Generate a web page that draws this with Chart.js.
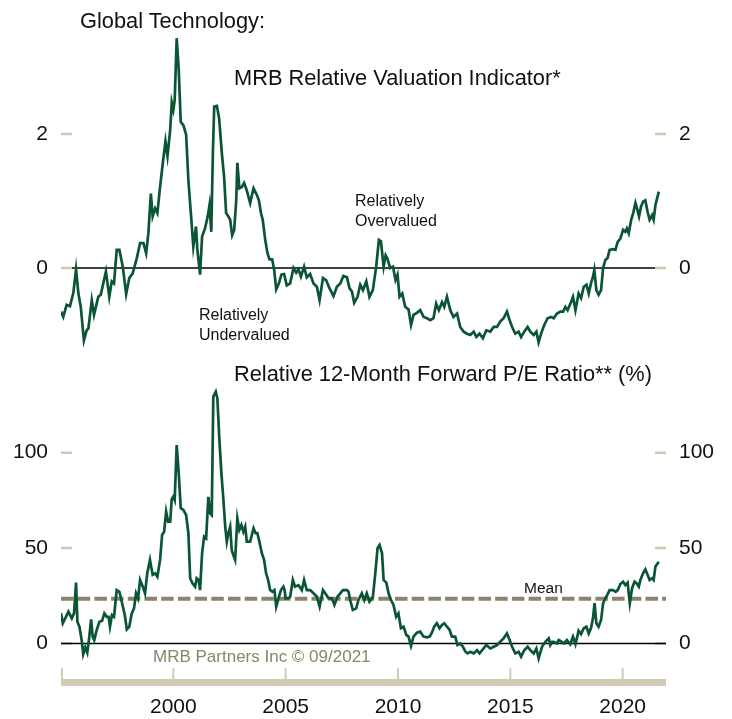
<!DOCTYPE html>
<html>
<head>
<meta charset="utf-8">
<script src="https://cdn.jsdelivr.net/npm/chart.js@4.4.0/dist/chart.umd.min.js"></script>
<style>
  html, body { margin: 0; padding: 0; background: #fff; }
  #wrap { position: relative; width: 732px; height: 719px; font-family: "Liberation Sans", Arial, sans-serif; color: #111; }
  #topChart { position: absolute; left: 0; top: 0; }
  #botChart { position: absolute; left: 0; top: 360px; }
  .lbl { position: absolute; white-space: nowrap; pointer-events: none; }
  .title { font-size: 21.8px; line-height: 21.8px; }
  .note { font-size: 16px; line-height: 20px; }
</style>
</head>
<body>
<div id="wrap">
  <canvas id="topChart" width="732" height="360"></canvas>
  <canvas id="botChart" width="732" height="359"></canvas>

  <div class="lbl title" style="left:80px; top:10px;">Global Technology:</div>
  <div class="lbl title" style="left:234px; top:67px;">MRB Relative Valuation Indicator*</div>
  <div class="lbl note" style="left:355px; top:191px;">Relatively<br>Overvalued</div>
  <div class="lbl note" style="left:199px; top:305px;">Relatively<br>Undervalued</div>
  <div class="lbl title" style="left:234px; top:363px;">Relative 12-Month Forward P/E Ratio** (%)</div>
  <div class="lbl" style="left:524px; top:580px; font-size:15.5px; line-height:15.5px;">Mean</div>
  <div class="lbl" style="left:153px; top:648px; font-size:17px; line-height:17px; color:#8b8468;">MRB Partners Inc © 09/2021</div>
</div>

<script>
// x range (decimal years)
const X_MIN = 1995;
const X_MAX = 2021.93;
const xTickYears = [2000, 2005, 2010, 2015, 2020];

// top panel: MRB relative valuation indicator
const rviTicks = [0, 2];
const rviYears = [
  1995.00, 1995.10, 1995.25, 1995.40, 1995.55, 1995.67, 1995.77, 1995.88, 1996.02, 1996.14,
  1996.22, 1996.37, 1996.47, 1996.66, 1996.77, 1996.88, 1997.00, 1997.15, 1997.26, 1997.36,
  1997.48, 1997.60, 1997.75, 1997.90, 1998.04, 1998.19, 1998.37, 1998.52, 1998.67, 1998.79,
  1998.89, 1999.00, 1999.08, 1999.19, 1999.29, 1999.41, 1999.53, 1999.65, 1999.74, 1999.86,
  1999.93, 2000.00, 2000.06, 2000.15, 2000.24, 2000.33, 2000.45, 2000.57, 2000.67, 2000.78,
  2000.89, 2001.01, 2001.07, 2001.19, 2001.28, 2001.41, 2001.53, 2001.61, 2001.69, 2001.76,
  2001.82, 2001.94, 2002.04, 2002.16, 2002.26, 2002.35, 2002.45, 2002.53, 2002.62, 2002.71,
  2002.80, 2002.85, 2002.94, 2003.05, 2003.15, 2003.27, 2003.42, 2003.57, 2003.72, 2003.81,
  2003.90, 2003.98, 2004.09, 2004.19, 2004.28, 2004.40, 2004.49, 2004.58, 2004.70, 2004.81,
  2004.93, 2005.05, 2005.20, 2005.35, 2005.47, 2005.57, 2005.68, 2005.82, 2005.94, 2006.09,
  2006.24, 2006.39, 2006.51, 2006.66, 2006.80, 2006.95, 2007.13, 2007.28, 2007.43, 2007.57,
  2007.73, 2007.84, 2007.95, 2008.05, 2008.20, 2008.32, 2008.44, 2008.59, 2008.73, 2008.88,
  2009.03, 2009.15, 2009.24, 2009.36, 2009.45, 2009.53, 2009.65, 2009.78, 2009.89, 2009.98,
  2010.07, 2010.19, 2010.32, 2010.47, 2010.58, 2010.69, 2010.84, 2010.99, 2011.14, 2011.29,
  2011.44, 2011.58, 2011.70, 2011.82, 2011.96, 2012.06, 2012.18, 2012.33, 2012.47, 2012.63,
  2012.77, 2012.92, 2013.07, 2013.22, 2013.37, 2013.49, 2013.63, 2013.78, 2013.93, 2014.11,
  2014.26, 2014.41, 2014.55, 2014.70, 2014.85, 2014.97, 2015.08, 2015.22, 2015.37, 2015.48,
  2015.62, 2015.77, 2015.89, 2016.04, 2016.16, 2016.26, 2016.37, 2016.51, 2016.66, 2016.81,
  2016.93, 2017.08, 2017.23, 2017.35, 2017.45, 2017.55, 2017.70, 2017.79, 2017.90, 2018.04,
  2018.15, 2018.27, 2018.39, 2018.49, 2018.59, 2018.68, 2018.74, 2018.83, 2018.93, 2019.04,
  2019.13, 2019.23, 2019.33, 2019.42, 2019.57, 2019.68, 2019.78, 2019.90, 2020.02, 2020.12,
  2020.19, 2020.27, 2020.38, 2020.47, 2020.57, 2020.64, 2020.73, 2020.82, 2020.91, 2021.01,
  2021.11, 2021.20, 2021.31, 2021.38, 2021.46, 2021.61
];
const rviValues = [
  -0.65, -0.73, -0.55, -0.57, -0.37, -0.02, -0.37, -0.58, -1.08, -0.93,
  -0.90, -0.48, -0.70, -0.43, -0.40, -0.23, -0.05, -0.43, -0.20, -0.23,
  0.27, 0.27, 0.02, -0.39, -0.15, -0.08, 0.14, 0.37, 0.37, 0.22,
  0.52, 1.11, 0.77, 0.89, 0.82, 1.21, 1.56, 1.89, 1.67, 2.06,
  2.47, 2.36, 2.50, 3.43, 2.96, 2.18, 2.13, 1.99, 1.31, 0.82,
  0.32, 0.62, 0.27, -0.10, 0.47, 0.59, 0.77, 0.94, 0.54, 1.71,
  2.41, 2.42, 2.23, 1.71, 1.36, 0.82, 0.77, 0.72, 0.49, 0.57,
  1.01, 1.57, 1.19, 1.21, 1.27, 1.16, 0.97, 1.19, 1.09, 1.01,
  0.82, 0.72, 0.42, 0.22, 0.13, 0.13, -0.03, -0.32, -0.23, -0.10,
  -0.09, -0.26, -0.23, 0.00, -0.07, -0.02, -0.13, 0.02, -0.14, -0.09,
  -0.23, -0.28, -0.48, -0.15, -0.18, -0.30, -0.42, -0.28, -0.23, -0.12,
  -0.14, -0.30, -0.35, -0.52, -0.43, -0.25, -0.33, -0.20, -0.43, -0.33,
  0.02, 0.42, 0.40, 0.02, 0.19, 0.14, 0.00, 0.02, -0.18, -0.10,
  -0.43, -0.38, -0.58, -0.62, -0.85, -0.70, -0.67, -0.63, -0.73, -0.75,
  -0.78, -0.75, -0.53, -0.63, -0.51, -0.58, -0.43, -0.63, -0.73, -0.68,
  -0.88, -0.95, -0.98, -1.00, -0.95, -1.03, -0.98, -1.05, -0.93, -0.95,
  -0.88, -0.88, -0.80, -0.75, -0.65, -0.78, -0.88, -0.98, -0.95, -1.03,
  -0.95, -0.88, -0.95, -1.00, -0.95, -1.11, -0.98, -0.85, -0.75, -0.73,
  -0.75, -0.68, -0.65, -0.65, -0.58, -0.63, -0.51, -0.43, -0.63, -0.38,
  -0.45, -0.28, -0.25, -0.38, -0.23, -0.13, -0.03, -0.33, -0.40, -0.33,
  0.00, 0.12, 0.15, 0.27, 0.28, 0.27, 0.39, 0.44, 0.57, 0.54,
  0.59, 0.52, 0.72, 0.82, 0.97, 0.89, 0.77, 0.92, 0.99, 1.01,
  0.84, 0.72, 0.79, 0.72, 0.94, 1.14
];

// bottom panel: relative 12-month forward P/E (%)
const peTicks = [0, 50, 100];
const peMean = 23.5;
const peYears = [
  1995.00, 1995.08, 1995.22, 1995.33, 1995.48, 1995.58, 1995.67, 1995.73, 1995.82, 1995.92,
  1995.99, 1996.08, 1996.17, 1996.26, 1996.34, 1996.41, 1996.48, 1996.59, 1996.71, 1996.83,
  1996.93, 1997.04, 1997.12, 1997.18, 1997.27, 1997.36, 1997.48, 1997.60, 1997.72, 1997.84,
  1997.93, 1998.04, 1998.15, 1998.25, 1998.34, 1998.43, 1998.52, 1998.64, 1998.74, 1998.84,
  1998.96, 1999.08, 1999.19, 1999.29, 1999.41, 1999.50, 1999.59, 1999.68, 1999.77, 1999.86,
  1999.93, 2000.00, 2000.06, 2000.15, 2000.24, 2000.33, 2000.45, 2000.57, 2000.67, 2000.75,
  2000.85, 2000.97, 2001.04, 2001.13, 2001.19, 2001.28, 2001.37, 2001.46, 2001.56, 2001.64,
  2001.71, 2001.78, 2001.89, 2001.96, 2002.05, 2002.14, 2002.23, 2002.31, 2002.38, 2002.45,
  2002.53, 2002.60, 2002.67, 2002.75, 2002.85, 2002.94, 2003.03, 2003.12, 2003.20, 2003.27,
  2003.42, 2003.57, 2003.66, 2003.74, 2003.83, 2003.94, 2004.04, 2004.13, 2004.22, 2004.31,
  2004.41, 2004.50, 2004.58, 2004.68, 2004.79, 2004.90, 2004.95, 2005.00, 2005.10, 2005.20,
  2005.32, 2005.42, 2005.57, 2005.72, 2005.82, 2005.94, 2006.09, 2006.24, 2006.39, 2006.51,
  2006.66, 2006.76, 2006.91, 2007.06, 2007.17, 2007.31, 2007.43, 2007.55, 2007.73, 2007.80,
  2007.87, 2007.99, 2008.14, 2008.24, 2008.39, 2008.50, 2008.61, 2008.73, 2008.88, 2008.99,
  2009.09, 2009.18, 2009.29, 2009.36, 2009.48, 2009.58, 2009.69, 2009.80, 2009.92, 2010.02,
  2010.13, 2010.25, 2010.37, 2010.47, 2010.58, 2010.69, 2010.84, 2010.99, 2011.14, 2011.29,
  2011.41, 2011.51, 2011.61, 2011.73, 2011.85, 2011.96, 2012.06, 2012.18, 2012.30, 2012.40,
  2012.55, 2012.65, 2012.77, 2012.89, 2013.00, 2013.10, 2013.22, 2013.37, 2013.52, 2013.63,
  2013.78, 2013.93, 2014.11, 2014.26, 2014.41, 2014.55, 2014.70, 2014.85, 2014.97, 2015.08,
  2015.22, 2015.37, 2015.48, 2015.62, 2015.77, 2015.89, 2016.04, 2016.16, 2016.26, 2016.41,
  2016.56, 2016.63, 2016.71, 2016.78, 2016.86, 2016.93, 2017.08, 2017.15, 2017.23, 2017.38,
  2017.52, 2017.67, 2017.79, 2017.90, 2018.04, 2018.15, 2018.27, 2018.39, 2018.49, 2018.59,
  2018.68, 2018.75, 2018.83, 2018.93, 2019.04, 2019.13, 2019.23, 2019.31, 2019.42, 2019.57,
  2019.69, 2019.78, 2019.90, 2020.02, 2020.12, 2020.22, 2020.32, 2020.42, 2020.53, 2020.62,
  2020.72, 2020.79, 2020.91, 2021.01, 2021.11, 2021.20, 2021.31, 2021.38, 2021.46, 2021.61
];
const peValues = [
  15.8, 10.6, 14.0, 16.7, 13.2, 15.8, 31.9, 11.4, 8.8, 1.8,
  -5.5, -2.0, -4.8, 3.6, 12.7, 3.6, 1.8, 7.1, 11.4, 11.9,
  15.8, 14.0, 14.0, 8.8, 14.9, 14.0, 28.0, 27.1, 21.1, 14.9,
  7.4, 8.8, 15.8, 18.4, 26.3, 23.7, 33.3, 29.8, 26.3, 36.8,
  43.8, 36.0, 36.8, 35.0, 43.8, 56.9, 58.6, 69.1, 63.8, 63.8,
  75.6, 77.0, 75.2, 104.0, 89.2, 70.9, 70.0, 67.3, 57.8, 34.2,
  31.6, 29.8, 34.2, 33.3, 28.0, 47.3, 56.0, 55.1, 76.9, 68.2,
  67.3, 129.4, 132.0, 128.5, 106.7, 89.2, 75.2, 61.2, 53.4, 57.8,
  61.2, 48.9, 46.3, 43.8, 65.6, 59.5, 62.1, 58.6, 61.2, 53.4,
  53.4, 60.4, 57.8, 57.8, 53.4, 47.3, 43.8, 36.8, 33.3, 28.0,
  27.1, 28.0, 19.3, 23.7, 28.0, 29.8, 28.0, 23.7, 23.7, 24.5,
  33.3, 29.8, 30.6, 28.0, 33.3, 28.0, 28.0, 26.3, 24.5, 19.3,
  28.0, 26.3, 23.7, 23.7, 20.2, 24.5, 26.3, 28.0, 28.0, 27.1,
  22.8, 17.6, 18.4, 22.8, 26.3, 22.8, 26.3, 21.9, 24.1, 36.8,
  49.9, 51.6, 47.3, 33.3, 31.9, 26.3, 22.8, 20.2, 14.0, 15.8,
  8.0, 8.8, 4.5, 3.6, -1.3, 3.6, 5.7, 6.2, 3.6, 3.2,
  3.6, 5.7, 8.8, 10.6, 8.0, 9.7, 10.6, 8.8, 7.1, 3.6,
  3.6, -0.8, 0.0, -1.7, -4.3, -5.2, -4.3, -5.2, -3.5, -5.2,
  -3.0, -0.8, -2.6, -1.7, -0.8, 0.9, 2.7, 5.3, 1.8, -1.7,
  -5.2, -4.3, -6.9, -3.5, -1.7, -3.5, -5.2, -2.6, -7.8, -1.7,
  0.9, 1.8, 2.7, -0.8, 0.9, 0.9, 0.0, 1.8, 1.4, 0.0,
  1.8, -0.4, 3.6, -0.4, 6.7, 4.9, 8.0, 8.8, 5.3, 8.0,
  13.2, 21.1, 10.6, 8.8, 12.3, 21.1, 23.7, 25.4, 28.0, 28.0,
  27.1, 28.0, 31.2, 32.4, 30.6, 31.9, 21.1, 29.0, 32.4, 31.6,
  29.8, 33.3, 36.8, 38.9, 36.0, 33.3, 34.2, 33.3, 40.3, 42.9
];

const GREEN = '#0a5534';
const TICK_BEIGE = '#cfc7b0';
const RAIL = '#d3cbb5';
const MEAN_COLOR = '#8c846a';
const LABEL_FONT = { family: '"Liberation Sans", Arial, sans-serif', size: 21 };

// short beige tick dashes inside both edges, and the black zero line
const panelDecor = {
  id: 'panelDecor',
  beforeDatasetsDraw(chart, args, opts) {
    const { ctx, chartArea: a, scales } = chart;
    const y = scales.y;
    ctx.save();
    ctx.strokeStyle = TICK_BEIGE;
    ctx.lineWidth = 2.5;
    y.ticks.forEach(t => {
      const py = y.getPixelForValue(t.value);
      ctx.beginPath();
      ctx.moveTo(a.left, py); ctx.lineTo(a.left + 11, py);
      ctx.moveTo(a.right - 11, py); ctx.lineTo(a.right, py);
      ctx.stroke();
    });
    const z = y.getPixelForValue(0);
    ctx.strokeStyle = '#000';
    ctx.lineWidth = 1.5;
    ctx.beginPath();
    ctx.moveTo(a.left + opts.inset, z);
    ctx.lineTo(a.right - opts.inset, z);
    ctx.stroke();
    ctx.restore();
  }
};

// thick beige rail under the bottom panel with upward year ticks
const xRail = {
  id: 'xRail',
  afterDraw(chart) {
    const { ctx, chartArea: a, scales: { x } } = chart;
    ctx.save();
    ctx.fillStyle = RAIL;
    ctx.fillRect(a.left, a.bottom - 7, a.right - a.left, 7);
    ctx.strokeStyle = RAIL;
    ctx.lineWidth = 2;
    [X_MIN, ...xTickYears].forEach(v => {
      const px = x.getPixelForValue(v) + (v === X_MIN ? 1 : 0);
      ctx.beginPath();
      ctx.moveTo(px, a.bottom - 18);
      ctx.lineTo(px, a.bottom - 7);
      ctx.stroke();
    });
    ctx.restore();
  }
};

function yAxis(position, min, max, ticks, width, padding) {
  return {
    position,
    min,
    max,
    afterBuildTicks: s => { s.ticks = ticks.map(v => ({ value: v })); },
    afterFit: s => { s.width = width; s.paddingTop = 0; s.paddingBottom = 0; },
    grid: { display: false, drawTicks: false },
    border: { display: false },
    ticks: { padding, color: '#111', font: LABEL_FONT, callback: v => String(v) }
  };
}

const basePlugins = { legend: { display: false }, tooltip: { enabled: false } };

new Chart(document.getElementById('topChart'), {
  type: 'line',
  data: {
    datasets: [{
      data: rviYears.map((x, i) => ({ x, y: rviValues[i] })),
      borderColor: GREEN,
      borderWidth: 2.7,
      pointRadius: 0,
      tension: 0
    }]
  },
  options: {
    responsive: false,
    animation: false,
    layout: { padding: { top: 20, bottom: 0, left: 0, right: 0 } },
    plugins: { ...basePlugins, panelDecor: { inset: 11 } },
    scales: {
      x: { type: 'linear', min: X_MIN, max: X_MAX, display: false },
      y: yAxis('left', -1.3731, 3.7015, rviTicks, 61, 13),
      y2: yAxis('right', -1.3731, 3.7015, rviTicks, 66, 13)
    }
  },
  plugins: [panelDecor]
});

new Chart(document.getElementById('botChart'), {
  type: 'line',
  data: {
    datasets: [{
      data: peYears.map((x, i) => ({ x, y: peValues[i] })),
      borderColor: GREEN,
      borderWidth: 2.7,
      pointRadius: 0,
      tension: 0
    }, {
      data: [{ x: X_MIN, y: peMean }, { x: X_MAX, y: peMean }],
      borderColor: MEAN_COLOR,
      borderWidth: 4,
      borderDash: [12.5, 4.2],
      pointRadius: 0
    }]
  },
  options: {
    responsive: false,
    animation: false,
    layout: { padding: 0 },
    plugins: { ...basePlugins, panelDecor: { inset: 0 } },
    scales: {
      x: {
        type: 'linear',
        min: X_MIN,
        max: X_MAX,
        afterBuildTicks: s => { s.ticks = xTickYears.map(v => ({ value: v })); },
        afterFit: s => { s.height = 33; },
        grid: { display: false, drawTicks: false },
        border: { display: false },
        ticks: { padding: 9, maxRotation: 0, autoSkip: false, color: '#111', font: LABEL_FONT, callback: v => String(v) }
      },
      y: yAxis('left', -22.27, 148.58, peTicks, 61, 13),
      y2: yAxis('right', -22.27, 148.58, peTicks, 66, 13)
    }
  },
  plugins: [panelDecor, xRail]
});
</script>
</body>
</html>
